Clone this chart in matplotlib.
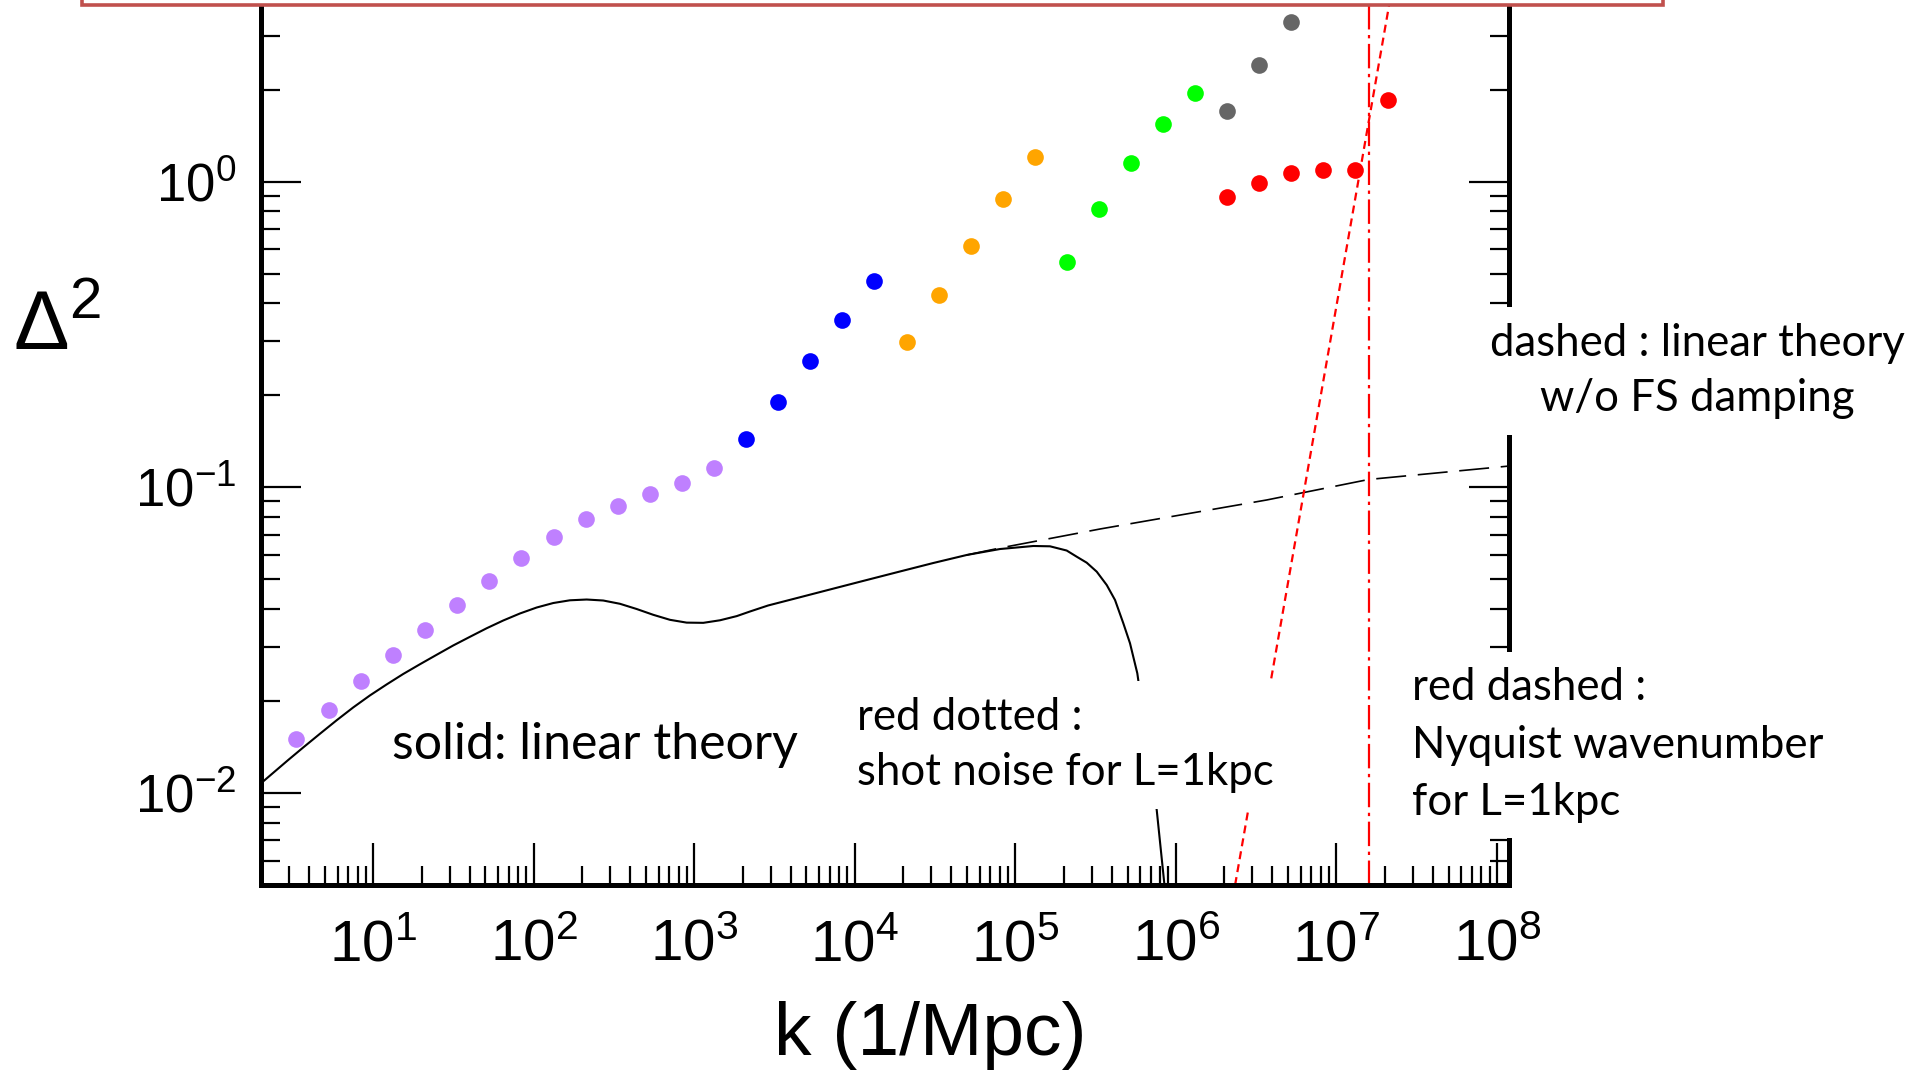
import numpy as np
import matplotlib.pyplot as plt
from matplotlib import font_manager
from matplotlib.ticker import LogLocator, NullFormatter
from matplotlib.patches import Rectangle

# measured Delta^2 at each resolution level (k in 1/Mpc)
k_purple = [3.30, 5.27, 8.42, 13.3, 21.1, 33.4, 52.8, 83.6, 133, 211, 333, 530, 838, 1327]
d2_purple = [0.0150, 0.01863, 0.02318, 0.02820, 0.03412, 0.04110, 0.04935,
             0.05884, 0.06860, 0.07857, 0.08707, 0.09486, 0.1031, 0.1159]
k_blue = [2099, 3327, 5272, 8337, 13270]
d2_blue = [0.1439, 0.1906, 0.2589, 0.3527, 0.4732]
k_orange = [21060, 33330, 52760, 83470, 132100]
d2_orange = [0.2981, 0.4268, 0.6162, 0.8758, 1.204]
k_green = [2.109e5, 3.338e5, 5.280e5, 8.358e5, 1.323e6]
d2_green = [0.5473, 0.8159, 1.154, 1.539, 1.947]
k_gray = [2.084e6, 3.313e6, 5.243e6]
d2_gray = [1.703, 2.404, 3.332]
k_red = [2.084e6, 3.313e6, 5.243e6, 8.299e6, 1.313e7, 2.090e7]
d2_red = [0.8932, 0.9902, 1.070, 1.092, 1.092, 1.855]

# linear theory with free-streaming damping
k_lin = [2.0, 2.954, 3.664, 4.656, 5.916, 7.507, 9.537, 12.12, 15.38, 19.54, 24.83,
         31.50, 40.05, 50.86, 64.56, 82.04, 104.3, 132.3, 168.1, 213.6, 271.0, 344.5,
         437.7, 555.3, 705.9, 896.7, 1138, 1446, 1838, 2223, 2883, 4490, 7006, 10930,
         19120, 30840, 49800, 80300, 129500, 164500, 209000, 241300, 278600, 321600,
         371200, 418100, 470900, 518300, 575500, 760300, 868700]
d2_lin = [0.01076, 0.01282, 0.01409, 0.01562, 0.01729, 0.01905, 0.02085, 0.02265,
          0.02451, 0.02637, 0.02832, 0.03038, 0.03243, 0.03458, 0.03667, 0.03866,
          0.04044, 0.04183, 0.04270, 0.04295, 0.04263, 0.04159, 0.03999, 0.03828,
          0.03686, 0.03609, 0.03603, 0.03673, 0.03790, 0.03924, 0.04106, 0.04360,
          0.04632, 0.04920, 0.05305, 0.05655, 0.06007, 0.06283, 0.06428, 0.06413,
          0.06212, 0.05930, 0.05668, 0.05297, 0.04790, 0.04279, 0.03591, 0.03089,
          0.02464, 0.008799, 0.004466]

# linear theory without FS damping
k_nofs = [49800, 80300, 337100, 3.684e6, 1.590e7, 1.191e8]
d2_nofs = [0.06007, 0.06331, 0.07306, 0.09092, 0.1061, 0.1174]

# shot noise for L=1kpc, and the Nyquist wavenumber
k_shot = [2.34e6, 2.2e7]
d2_shot = [0.005, 4.16]
k_nyq = 1.6e7

xticks = [1e1, 1e2, 1e3, 1e4, 1e5, 1e6, 1e7, 1e8]
yticks = [1e-2, 1e-1, 1e0]

available = {f.name for f in font_manager.fontManager.ttflist}
narrow = 'Liberation Sans Narrow' if 'Liberation Sans Narrow' in available else 'Liberation Sans'
note_font = 'Lato'

W, H = 1928, 1071
fig = plt.figure(figsize=(W / 100, H / 100), dpi=100)
ax = fig.add_axes([261 / W, 1 - 885 / H, (1509 - 261) / W, 885 / H])
ax.set_xscale('log')
ax.set_yscale('log')
ax.set_xlim(2, 1.19e8)
ax.set_ylim(0.005, 3.93)

ms = 12
ax.plot(k_purple, d2_purple, 'o', color='#BF80FF', ms=ms, mec='none')
ax.plot(k_blue, d2_blue, 'o', color='#0000FF', ms=ms, mec='none')
ax.plot(k_orange, d2_orange, 'o', color='#FFA500', ms=ms, mec='none')
ax.plot(k_green, d2_green, 'o', color='#00FF00', ms=ms, mec='none')
ax.plot(k_gray, d2_gray, 'o', color='#666666', ms=ms, mec='none')
ax.plot(k_red, d2_red, 'o', color='#FF0000', ms=ms, mec='none')

ax.plot(k_lin, d2_lin, color='black', lw=1.5)
ax.plot(k_nofs, d2_nofs, color='black', lw=1.2, linestyle=(0, (18, 7)))
ax.plot(k_shot, d2_shot, color='red', lw=1.6, linestyle=(0, (3.6, 2.3)))
ax.axvline(k_nyq, color='red', lw=1.6, linestyle=(0, (11, 2.5, 1.5, 2.5)))

# axes frame: no top spine, thick ticks pointing inward on three sides
ax.spines['top'].set_visible(False)
for side in ['left', 'right', 'bottom']:
    ax.spines[side].set_linewidth(3.6)
ax.set_xticks(xticks)
ax.set_yticks(yticks)
ax.xaxis.set_minor_locator(LogLocator(base=10, subs=np.arange(2, 10), numticks=100))
ax.yaxis.set_minor_locator(LogLocator(base=10, subs=np.arange(2, 10), numticks=100))
ax.xaxis.set_minor_formatter(NullFormatter())
ax.yaxis.set_minor_formatter(NullFormatter())
ax.tick_params(which='both', direction='in', top=False, bottom=True, left=True, right=True, width=1.6)
ax.tick_params(axis='x', which='major', length=30, pad=24, labelsize=42, labelfontfamily=narrow)
ax.tick_params(axis='x', which='minor', length=13.7)
ax.tick_params(axis='y', which='major', length=29, pad=18, labelsize=38, labelfontfamily='Liberation Sans')
ax.tick_params(axis='y', which='minor', length=13.7)

fig.text(930 / W, 1 - 1035 / H, 'k (1/Mpc)', fontsize=54, family=narrow, ha='center', va='center')
fig.text(57 / W, 1 - 328 / H, r'$\mathdefault{Δ^{2}}$', fontsize=60, family='Liberation Sans',
         ha='center', va='center')

box = dict(boxstyle='square,pad=0.35', facecolor='white', edgecolor='none')
fig.text(392 / W, 1 - 745 / H, 'solid: linear theory', fontsize=36, family=note_font,
         ha='left', va='center')
fig.text(857 / W, 1 - 745 / H, 'red dotted :\nshot noise for L=1kpc', fontsize=31.5,
         family=note_font, ha='left', va='center', linespacing=1.45, bbox=box)
fig.text(1697.5 / W, 1 - 371 / H, 'dashed : linear theory\nw/o FS damping', fontsize=31.5,
         family=note_font, ha='center', va='center', multialignment='center',
         linespacing=1.45, bbox=box)
fig.text(1411.6 / W, 1 - 745 / H, 'red dashed :\nNyquist wavenumber\nfor L=1kpc', fontsize=31.5,
         family=note_font, ha='left', va='center', linespacing=1.5, bbox=box)

# slide frame running off the top edge
fig.add_artist(Rectangle((82 / W, 1 - 5 / H), (1663 - 82) / W, 0.2, transform=fig.transFigure,
                         facecolor='white', edgecolor='#C0504D', lw=2.6, clip_on=False, zorder=10))

fig.savefig('out.png', dpi=100)
